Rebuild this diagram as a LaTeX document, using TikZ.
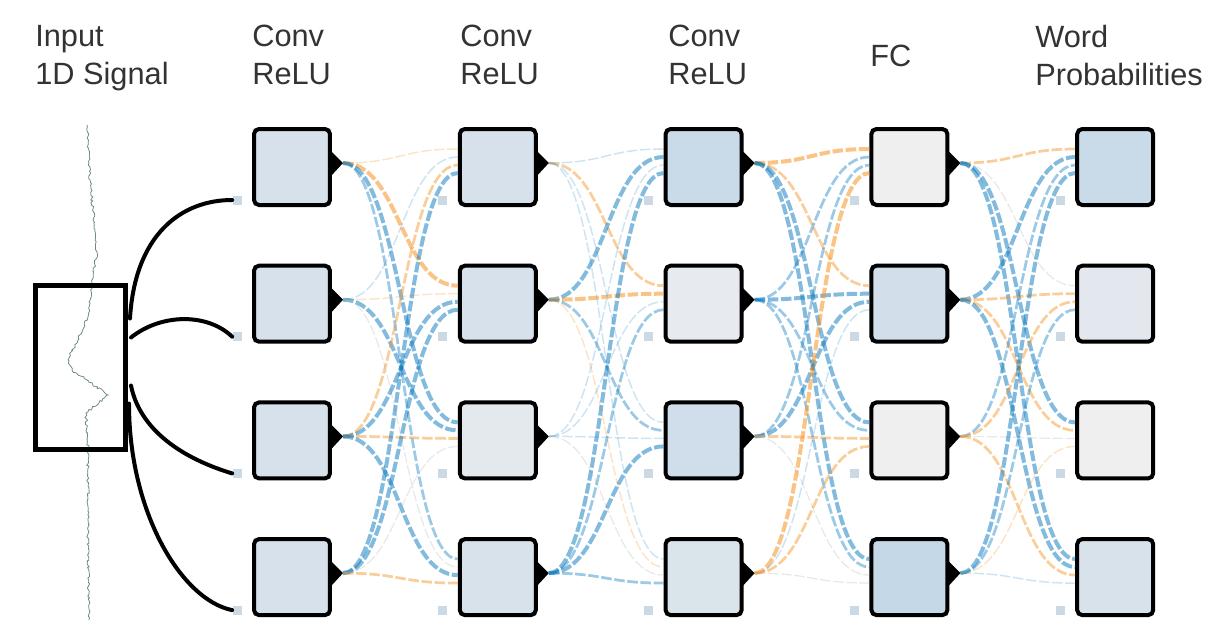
\documentclass[tikz,border=0pt]{standalone}
\usepackage{fontspec}
\setmainfont{Liberation Sans}
\usetikzlibrary{calc, decorations.pathmorphing}
\definecolor{unitblue}{RGB}{197,216,232}
\definecolor{unitgray}{RGB}{239,239,239}
\definecolor{posblue}{RGB}{8,119,189}
\definecolor{negorange}{RGB}{245,147,34}
\definecolor{biasblue}{RGB}{203,217,228}
\definecolor{tracegreen}{RGB}{110,140,125}

\begin{document}
\begin{tikzpicture}[x=0.02cm, y=-0.02cm,
    unit/.style={draw, line width=.08cm, rounded corners=.1cm, minimum size=1.52cm, inner sep=0pt},
    bias/.style={fill=biasblue, inner sep=0pt, minimum size=.18cm},
    heading/.style={anchor=north west, inner sep=0pt, align=left, text=black!80,
                    font=\fontsize{17.5}{21.6}\selectfont},
    link/.style={dash pattern=on 6pt off 1.5pt},
    pos1/.style={link, draw=posblue, draw opacity=.2, line width=.03cm},
    pos2/.style={link, draw=posblue, draw opacity=.4, line width=.055cm},
    pos3/.style={link, draw=posblue, draw opacity=.5, line width=.08cm},
    neg1/.style={link, draw=negorange, draw opacity=.25, line width=.03cm},
    neg2/.style={link, draw=negorange, draw opacity=.45, line width=.055cm},
    neg3/.style={link, draw=negorange, draw opacity=.55, line width=.08cm},
    zero/.style={link, draw=black!30, draw opacity=.3, line width=.025cm},
    wire/.style={line width=.08cm, line cap=round},
    trace/.style={draw=tracegreen, line width=.45pt, decorate,
                  decoration={random steps, segment length=1.2pt, amplitude=.7pt}},
]
\useasboundingbox (0,0) rectangle (1226,620);
\pgfmathsetseed{7}

% titles
\node[heading] (in-title) at (35,25) {Input\\1D Signal};
\node[heading] (conv1-title) at (252,25) {Conv\\ReLU};
\node[heading] (conv2-title) at (460,25) {Conv\\ReLU};
\node[heading] (conv3-title) at (668,25) {Conv\\ReLU};
\node[heading] (fc-title) at (870,45) {FC};
\node[heading] (out-title) at (1035,25) {Word\\Probabilities};

% input signal and window
\draw[trace] (87,125) -- (90,180) -- (95,230) -- (97,252) -- (92,283) -- (88,317)
    -- (68,360) -- (72,370) -- (108,395) -- (86,413) -- (88,450) -- (88,530) -- (89,620);
\node[draw, line width=.09cm, minimum width=1.81cm, minimum height=3.29cm, inner sep=0pt] (window) at (80.5,367.5) {};

% units
\foreach \c/\r/\s in {1/1/60,1/2/60,1/3/60,1/4/60,
                      2/1/60,2/2/60,2/3/25,2/4/55,
                      3/1/90,3/2/20,3/3/75,3/4/50,
                      4/1/0,4/2/70,4/3/0,4/4/100,
                      5/1/90,5/2/30,5/3/0,5/4/55}{
  \node[unit, fill=unitblue!\s!unitgray] (n-\c-\r) at ({292+205.8*(\c-1)},{167+136.7*(\r-1)}) {};
  \node[bias] (b-\c-\r) at ($(n-\c-\r.south west)+(-15,-7)$) {};
}

% weights
\foreach \g/\i/\j/\w in {1/1/1/neg1,1/1/2/neg3,1/1/3/pos3,1/1/4/pos2,
                         1/2/1/pos1,1/2/2/neg1,1/2/3/pos3,1/2/4/zero,
                         1/3/1/neg2,1/3/2/pos3,1/3/3/neg2,1/3/4/pos3,
                         1/4/1/pos3,1/4/2/pos3,1/4/3/zero,1/4/4/neg2,
                         2/1/1/pos1,2/1/2/neg2,2/1/3/pos1,2/1/4/pos1,
                         2/2/1/pos3,2/2/2/neg3,2/2/3/pos2,2/2/4/neg1,
                         2/3/1/pos1,2/3/2/pos1,2/3/3/pos1,2/3/4/zero,
                         2/4/1/pos3,2/4/2/pos2,2/4/3/pos3,2/4/4/pos2,
                         3/1/1/neg3,3/1/2/neg2,3/1/3/pos3,3/1/4/pos3,
                         3/2/1/pos2,3/2/2/pos3,3/2/3/pos2,3/2/4/pos2,
                         3/3/1/pos2,3/3/2/pos3,3/3/3/neg2,3/3/4/zero,
                         3/4/1/neg3,3/4/2/pos1,3/4/3/neg2,3/4/4/zero,
                         4/1/1/neg2,4/1/2/zero,4/1/3/pos3,4/1/4/pos3,
                         4/2/1/pos3,4/2/2/neg2,4/2/3/neg2,4/2/4/pos3,
                         4/3/1/pos2,4/3/2/neg2,4/3/3/zero,4/3/4/neg2,
                         4/4/1/pos3,4/4/2/pos2,4/4/3/neg1,4/4/4/pos1}{
  \pgfmathtruncatemacro\h{\g+1}
  \coordinate (s) at ($(n-\g-\i.east)+(11,-4)$);
  \coordinate (t) at ($(n-\h-\j.west)+(0,{-18+8*(\i-1)})$);
  \coordinate (m) at ($(s)!.5!(t)$);
  \draw[\w] (s) .. controls (m |- s) and (m |- t) .. (t);
}

% output arrows of the hidden units
\foreach \c in {1,...,4}
  \foreach \r in {1,...,4}
    \fill ($(n-\c-\r.east)+(-1,-16)$) -- ++(12,12) -- ++(-12,13) -- cycle;

% window to first layer
\draw[wire] ($(window.east)+(2,-49)$) .. controls +(5,-85) and +(-50,0) .. (b-1-1.west);
\draw[wire] ($(window.east)+(3,-30)$) .. controls +(30,-24) and +(-25,-24) .. (b-1-2.west);
\draw[wire] ($(window.east)+(3,18)$) .. controls +(10,50) and +(-40,-12) .. (b-1-3.west);
\draw[wire] ($(window.east)+(1,36)$) .. controls +(0,110) and +(-50,-10) .. (b-1-4.west);

\end{tikzpicture}
\end{document}
